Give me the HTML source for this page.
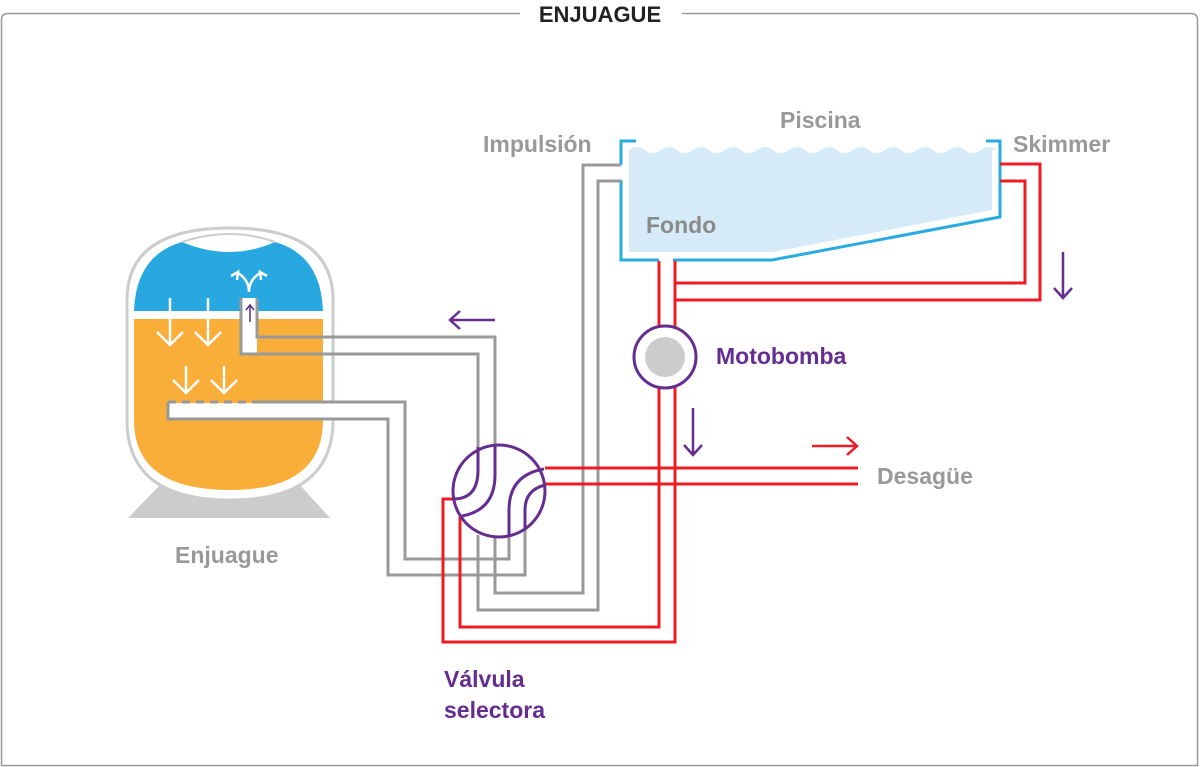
<!DOCTYPE html>
<html><head><meta charset="utf-8"><style>
html,body{margin:0;padding:0;background:#fff;}
svg{display:block;}
text{font-family:"Liberation Sans",sans-serif;font-weight:bold;}
</style></head><body>
<svg width="1200" height="767" viewBox="0 0 1200 767" xmlns="http://www.w3.org/2000/svg">
<!-- frame -->
<path d="M520 13.5 H8 Q1.5 13.5 1.5 20 V765.5 H1197.5 V20 Q1197.5 13.5 1191 13.5 H682" fill="none" stroke="#999" stroke-width="1.5"/>
<text x="600" y="22" font-size="22" text-anchor="middle" fill="#222">ENJUAGUE</text>

<!-- pool water -->
<path d="M629 150 q8 -6 16 0 t16 0 t16 0 t16 0 t16 0 t16 0 t16 0 t16 0 t16 0 t16 0 t16 0 t16 0 t16 0 t16 0 t16 0 t16 0 t16 0 t16 0 t16 0 t16 0 t16 0 t16 0 t16 0 L992 150 V210 L773 252 H629 Z" fill="#d5ecf8"/>
<g fill="none" stroke="#29abe2" stroke-width="3">
<polyline points="636,141 621,141 621,165"/>
<polyline points="621,180 621,260 659,260"/>
<polyline points="673,260 772,260 1000,217 1000,141 986,141"/>
</g>

<!-- tank -->
<path d="M160 485 L300 485 L330 518 L128 518 Z" fill="#ccc"/>
<path d="M127 300 Q127 228 230 228 Q333 228 333 300 V420 Q333 500 230 500 Q127 500 127 420 Z" fill="#fff" stroke="#ccc" stroke-width="3"/>
<path d="M134 311 Q136 255 182 242 Q230 262 275 242 Q321 255 323 311 Z" fill="#27a8e0"/>
<path d="M134 319 H323 V420 Q323 490 230 490 Q134 490 134 420 Z" fill="#f9ae3a"/>
<path d="M182 242 Q230 226 275 242" fill="none" stroke="#ccc" stroke-width="2"/>
<g stroke="#fff" stroke-width="2.5" fill="none">
<path d="M170 298 V345 M157 332 L170 345 L183 332"/>
<path d="M208 298 V345 M195 332 L208 345 L221 332"/>
<path d="M186 366 V393 M173 380 L186 393 L199 380"/>
<path d="M224 366 V393 M211 380 L224 393 L237 380"/>
<path d="M249 292 Q249 280 238 273 M249 292 Q249 280 260 273 M231 276 L238 272 L237 280 M267 276 L260 272 L261 280"/>
</g>
<!-- tank pipe top -->
<rect x="242" y="298" width="15" height="56" fill="#fff"/>
<path d="M250 322 V306 M246 310 L250 305 L254 310" stroke="#5b2c8a" stroke-width="1.5" fill="none"/>
<rect x="168" y="403" width="220" height="15" fill="#fff"/>
<g fill="none" stroke="#999" stroke-width="3">
<polyline points="241,298 241,354 478,354 478,448"/>
<polyline points="257,298 257,337 495,337 495,446"/>
<polyline points="255,402 405,402 405,559 509,559 509,533"/>
<polyline points="168,402 168,419 388,419 388,575 525,575 525,528"/>
<polyline points="495,535 495,593 583,593 583,165 621,165"/>
<polyline points="478,535 478,610 598,610 598,181 621,181"/>
</g>
<path d="M168 402 H255" stroke="#999" stroke-width="3" stroke-dasharray="8 6" fill="none"/>

<!-- red pipes -->
<g fill="none" stroke="#ed1c24" stroke-width="3">
<polyline points="659,261 659,627 460,627 460,517"/>
<polyline points="675,261 675,642 443,642 443,499 455,499"/>
<polyline points="675,261 675,283 1025,283 1025,181 1000,181"/>
<polyline points="1000,164 1040,164 1040,300 675,300"/>
<polyline points="545,468 858,468"/>
<polyline points="545,484 858,484"/>
</g>

<!-- valve -->
<circle cx="499" cy="491" r="46" fill="#fff" stroke="#662d91" stroke-width="3"/>
<g fill="none" stroke="#662d91" stroke-width="3">
<path d="M478 447 V470 Q478 498 455 499"/>
<path d="M495 446 V475 Q495 510 462 516"/>
<path d="M544 469 Q509 475 509 510 V536"/>
<path d="M545 485 Q525 490 525 510 V529"/>
</g>

<!-- pump -->
<circle cx="665" cy="357" r="31" fill="#fff" stroke="#662d91" stroke-width="3"/>
<circle cx="665" cy="357" r="20" fill="#ccc"/>

<!-- arrows -->
<g fill="none" stroke-width="2.5">
<path d="M450 320 H495 M460 311 L450 320 L460 329" stroke="#662d91"/>
<path d="M1063 252 V298 M1054 288 L1063 298 L1072 288" stroke="#662d91"/>
<path d="M693 408 V455 M684 445 L693 455 L702 445" stroke="#662d91"/>
<path d="M812 446 H857 M847 437 L857 446 L847 455" stroke="#ed1c24"/>
</g>

<!-- labels -->
<g font-size="23" fill="#999">
<text x="483" y="152">Impulsión</text>
<text x="780" y="128">Piscina</text>
<text x="1013" y="152">Skimmer</text>
<text x="646" y="233" fill="#8a8a8a">Fondo</text>
<text x="877" y="484">Desagüe</text>
<text x="175" y="563">Enjuague</text>
</g>
<g font-size="23" fill="#662d91">
<text x="716" y="364">Motobomba</text>
<text x="444" y="687">Válvula</text>
<text x="444" y="718">selectora</text>
</g>
</svg>
</body></html>
